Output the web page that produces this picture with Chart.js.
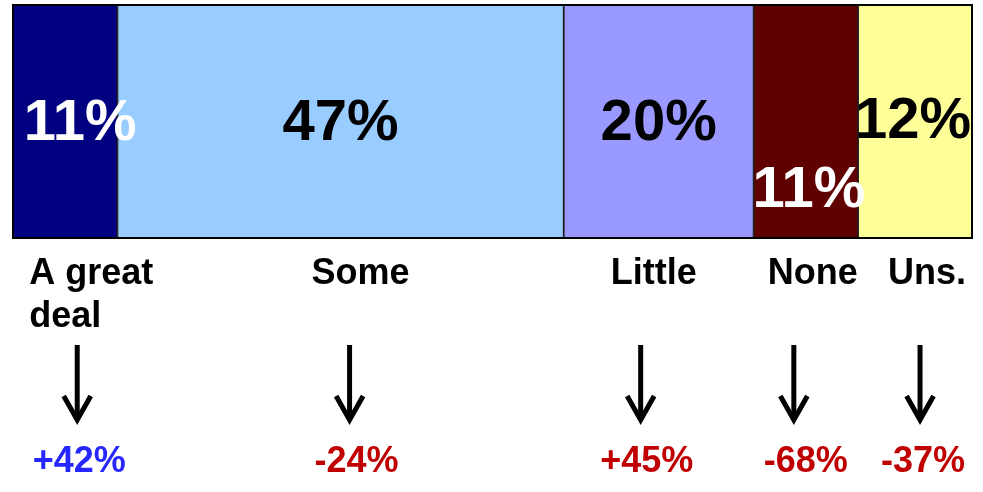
<!DOCTYPE html>
<html>
<head>
<meta charset="utf-8">
<script src="https://cdn.jsdelivr.net/npm/chart.js@4/dist/chart.umd.min.js"></script>
<style>
  html, body { margin: 0; padding: 0; background: #ffffff; }
  #wrap { width: 983px; height: 492px; position: relative; }
</style>
</head>
<body>
<div id="wrap"><canvas id="chart"></canvas></div>
<script>
// Share of respondents per answer, and change versus the earlier survey
const categories = [['A great', 'deal'], 'Some', 'Little', 'None', 'Uns.'];
const shares = [11, 47, 20, 11, 12];
const changes = [42, -24, 45, -68, -37];

// Styling
const segmentColors = ['#000080', '#99CCFF', '#9999FF', '#600000', '#FFFF99'];
const shareTextColors = ['#ffffff', '#000000', '#000000', '#ffffff', '#000000'];
const changeColors = ['#2626FF', '#C00000', '#C00000', '#C00000', '#C00000'];

// Pixel nudges relative to each segment's centre
const layout = {
  shareDx: [15, 0, 0, 3, -2],
  shareDy: [0, 0, 0, 67, -2],
  nameDx: [26, 20, -5, 7, 12],
  arrowDx: [12, 9, -18, -12, 5],
  changeDx: [14, 16, -12, 0, 8]
};

const FONT = '"Liberation Sans", Arial, Helvetica, sans-serif';
const total = shares.reduce((a, b) => a + b, 0);

const datasets = shares.map((v, i) => ({
  label: Array.isArray(categories[i]) ? categories[i].join(' ') : categories[i],
  data: [v],
  backgroundColor: segmentColors[i],
  borderColor: '#1a1a1a',
  borderWidth: 1.2,
  borderSkipped: false,
  barPercentage: 1,
  categoryPercentage: 1
}));

const fmtChange = v => (v > 0 ? '+' : '') + v + '%';

const annotate = {
  id: 'annotate',
  afterDatasetsDraw(chart) {
    const ctx = chart.ctx;
    const area = chart.chartArea;
    ctx.save();

    // outer frame of the bar
    ctx.strokeStyle = '#000000';
    ctx.lineWidth = 2;
    ctx.strokeRect(area.left, area.top, area.right - area.left, area.bottom - area.top);

    chart.data.datasets.forEach((ds, i) => {
      const bar = chart.getDatasetMeta(i).data[0];
      const cx = (bar.x + bar.base) / 2;
      const cy = bar.y;

      // share label inside the segment
      ctx.font = 'bold 58px ' + FONT;
      ctx.fillStyle = shareTextColors[i];
      ctx.textAlign = 'center';
      ctx.textBaseline = 'middle';
      ctx.fillText(shares[i] + '%', cx + layout.shareDx[i], cy + layout.shareDy[i] + 2);

      // answer name below the bar
      ctx.font = 'bold 36px ' + FONT;
      ctx.fillStyle = '#000000';
      ctx.textBaseline = 'alphabetic';
      const name = categories[i];
      const nx = cx + layout.nameDx[i];
      if (Array.isArray(name)) {
        const w = Math.max(...name.map(s => ctx.measureText(s).width));
        ctx.textAlign = 'left';
        name.forEach((s, k) => ctx.fillText(s, nx - w / 2, area.bottom + 46 + k * 43));
      } else {
        ctx.textAlign = 'center';
        ctx.fillText(name, nx, area.bottom + 46);
      }

      // downward arrow
      const ax = cx + layout.arrowDx[i];
      const top = area.bottom + 107;
      const tip = area.bottom + 185;
      ctx.strokeStyle = '#000000';
      ctx.lineWidth = 5;
      ctx.lineCap = 'butt';
      ctx.lineJoin = 'miter';
      ctx.beginPath();
      ctx.moveTo(ax, top);
      ctx.lineTo(ax, tip - 4);
      ctx.stroke();
      ctx.beginPath();
      ctx.moveTo(ax - 13.5, tip - 27);
      ctx.lineTo(ax, tip - 3);
      ctx.lineTo(ax + 13.5, tip - 27);
      ctx.stroke();

      // change figure
      ctx.font = 'bold 36px ' + FONT;
      ctx.fillStyle = changeColors[i];
      ctx.textAlign = 'center';
      ctx.fillText(fmtChange(changes[i]), cx + layout.changeDx[i], area.bottom + 234);
    });
    ctx.restore();
  }
};

new Chart(document.getElementById('chart'), {
  type: 'bar',
  data: { labels: [''], datasets },
  options: {
    indexAxis: 'y',
    responsive: true,
    maintainAspectRatio: false,
    devicePixelRatio: 1,
    animation: false,
    layout: { padding: { left: 13, right: 11, top: 5, bottom: 254 } },
    scales: {
      x: { stacked: true, min: 0, max: total, display: false },
      y: { stacked: true, display: false }
    },
    plugins: {
      legend: { display: false },
      tooltip: { enabled: false }
    }
  },
  plugins: [annotate]
});
</script>
</body>
</html>
